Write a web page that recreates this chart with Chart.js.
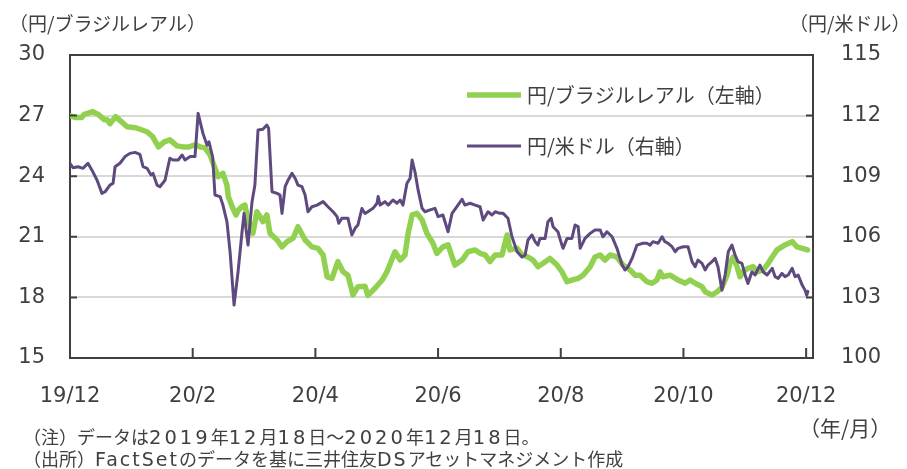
<!DOCTYPE html>
<html><head><meta charset="utf-8">
<script src="https://cdn.jsdelivr.net/npm/chart.js@4.4.1/dist/chart.umd.min.js"></script>
<style>
html,body{margin:0;padding:0;background:#fff;overflow:hidden;}
#wrap{position:relative;width:907px;height:469px;}
canvas{position:absolute;left:0;top:0;}
.t{position:absolute;font-family:"Noto Sans CJK JP","Noto Sans",sans-serif;color:#404040;white-space:nowrap;line-height:1;}
.n{font-size:18px;}
.l{font-family:"DejaVu Sans",sans-serif;font-size:19px;letter-spacing:2px;}
.d{font-family:"DejaVu Sans",sans-serif;font-size:19.5px;letter-spacing:3px;}
</style></head><body>
<div id="wrap">
<canvas id="c" width="907" height="469"></canvas>
<div class="t" style="left:9px;top:13px;font-size:19px;">（円/ブラジルレアル）</div>
<div class="t" style="left:789px;top:13px;font-size:19px;">（円/米ドル）</div>
<div class="t" style="left:799px;top:417px;font-size:21px;">（年/月）</div>
<div class="t n" style="left:23px;top:427px;">（注）データは<span class="d">2019</span>年<span class="d">12</span>月<span class="d">18</span>日～<span class="d">2020</span>年<span class="d">12</span>月<span class="d">18</span>日。</div>
<div class="t n" style="left:23px;top:449px;">（出所）<span class="l">FactSet</span>のデータを基に三井住友<span class="l">DS</span>アセットマネジメント作成</div>
</div>
<script>
// ---- data (x = trading-day index from 2019-12-18) ----
const tickPositions = [0, 43, 86, 129, 172, 215, 258];
const tickLabels = ['19/12', '20/2', '20/4', '20/6', '20/8', '20/10', '20/12'];

const brlDay = [0,2,4,5,8,10,12,13,14,16,18,20,23,25,27,29,31,33,35,37.5,39.6,41.7,43.8,45.6,47.3,49.1,50.8,51.9,53.6,55,55.5,57.1,58.2,58.9,60.3,61.3,62.4,64.1,65.5,66.6,67.6,69,70.1,72.6,74.3,76.1,78.2,79.9,82.4,84.8,86.9,88.7,90.1,91.8,93.9,95.7,97.4,99.2,100.9,103.4,104.4,106.9,109.4,111.1,113.9,115.7,117.4,118.5,119.9,121.6,123.4,125.1,127.2,128.6,130.7,132.5,134.9,137.4,139.5,142,143.7,145.5,147.2,149,151.4,153.2,154.2,156.7,158.4,160.5,162.3,164,165.8,168.2,170.7,172.4,174.2,175.9,178.1,179.8,182.3,184,185.8,187.5,189.3,191.7,193.8,196.3,198,199.8,202.2,204,205.7,206.8,207.8,210.3,213.1,215.6,217.3,219.1,221.5,222.6,225,226.8,228.5,230.3,231.3,232.4,233.8,234.8,235.9,237.6,239.4,241.1,242.9,244.3,246.1,247.8,250.6,253.1,254.8,256.6,258.5];
const brlValue = [27.0,26.9,26.9,27.06,27.2,27.05,26.8,26.8,26.6,26.95,26.7,26.45,26.4,26.3,26.2,25.95,25.45,25.7,25.8,25.5,25.45,25.45,25.55,25.45,25.4,25.05,24.4,23.98,24.14,23.56,22.98,22.4,22.08,22.3,22.5,22.57,21.83,21.17,22.24,22.0,21.75,22.08,21.17,20.84,20.5,20.76,20.93,21.5,20.84,20.5,20.43,20.1,19.02,18.94,19.77,19.27,19.1,18.12,18.53,18.55,18.1,18.45,18.86,19.27,20.26,19.85,20.1,21.17,22.08,22.16,21.83,21.17,20.68,20.18,20.5,20.6,19.6,19.85,20.26,20.35,20.18,20.1,19.77,20.1,20.1,21.09,20.35,20.43,20.1,20.0,19.85,19.52,19.69,19.93,19.6,19.27,18.78,18.86,18.94,19.1,19.52,20.0,20.1,19.85,20.1,20.0,19.6,19.36,19.1,19.1,18.78,18.7,18.86,19.27,19.02,19.1,18.86,18.7,18.86,18.7,18.53,18.28,18.12,18.28,18.5,19.1,19.7,20.0,19.52,19.02,19.27,19.44,19.52,19.27,19.36,19.6,20.0,20.35,20.6,20.76,20.5,20.43,20.35];

const usdDay = [0,1.05,2.8,4.6,6.3,7.7,9.5,11.2,12.3,14.0,15.1,15.8,17.5,19.3,21.0,22.8,24.5,25.6,27.0,28.4,29.1,30.5,31.5,33.3,35.0,36.1,37.9,39.3,40.3,42.1,43.8,44.9,46.6,48.0,48.7,50.0,50.8,52.6,53.6,55.0,56.1,57.5,58.9,60.3,61.0,62.4,63.8,64.8,65.9,67.6,69.0,69.6,70.8,72.6,73.6,74.3,75.4,76.4,77.8,78.9,79.9,81.3,82.4,83.4,84.8,86.6,88.7,90.4,92.2,93.6,94.2,95.3,97.4,98.8,99.9,100.9,102.3,103.4,104.4,106.2,107.6,108.0,108.7,110.4,111.5,113.2,114.6,115.7,116.7,118.1,119.2,119.9,120.9,122.0,123.4,124.4,126.2,127.9,129.0,130.7,132.5,133.9,135.6,137.4,138.4,140.2,142.0,143.7,144.8,146.5,147.9,149.0,150.7,151.8,153.5,154.9,156.7,158.4,159.5,160.5,161.9,163.0,164.0,164.7,166.5,167.5,168.6,169.3,171.0,172.4,172.8,174.2,175.9,177.0,178.1,178.8,180.5,182.3,184.0,185.8,186.8,188.2,190.0,191.7,193.5,194.5,195.6,197.0,198.7,200.8,202.2,203.3,204.3,206.1,207.5,208.5,209.6,211.0,212.1,213.1,214.9,216.6,218.0,219.1,220.1,221.5,222.6,223.6,225.0,226.1,227.1,228.5,229.6,230.7,232.0,233.1,234.1,235.5,236.6,237.6,239.0,240.1,241.8,242.9,244.3,246.1,247.1,248.2,249.5,250.6,251.7,253.1,254.1,255.2,256.6,257.6,258.2,258.6];
const usdValue = [109.64,109.42,109.47,109.39,109.64,109.3,108.8,108.15,108.23,108.56,108.65,109.47,109.64,109.97,110.13,110.18,110.08,109.47,109.39,109.06,109.14,108.56,108.48,108.8,109.89,109.8,109.8,110.05,109.8,109.97,109.97,112.11,111.12,110.54,110.7,109.95,108.07,107.99,107.57,106.75,105.26,102.62,104.27,106.25,107.16,105.59,107.74,108.56,111.29,111.32,111.53,111.37,108.23,108.15,108.07,107.16,108.48,108.8,109.14,108.9,108.56,108.48,108.07,107.24,107.49,107.57,107.74,107.49,107.24,107.0,106.67,106.92,106.92,106.09,106.42,106.58,107.4,107.15,107.24,107.41,107.66,107.99,107.57,107.74,107.57,107.82,107.66,107.82,107.57,108.65,108.9,109.8,109.22,108.32,107.41,107.24,107.33,107.41,107.0,107.08,106.25,107.16,107.49,107.86,107.57,107.66,107.57,107.49,106.83,107.24,107.08,107.24,107.16,107.16,106.92,106.0,105.26,105.0,105.1,105.84,106.09,105.76,105.59,105.92,105.92,106.75,106.92,106.5,106.25,105.59,105.43,105.92,105.92,106.58,106.5,105.43,105.92,106.17,106.34,106.34,106.0,106.25,106.0,105.43,104.6,104.36,104.52,104.93,105.59,105.68,105.68,105.59,105.76,105.68,106.0,105.76,105.68,105.51,105.26,105.43,105.51,105.51,104.77,104.52,104.85,104.68,104.36,104.6,104.77,104.93,104.52,103.36,104.11,105.26,105.59,105.1,104.77,104.68,104.11,103.69,104.27,104.11,104.6,104.27,104.11,104.44,104.03,103.94,104.19,104.03,104.11,104.44,104.03,104.11,103.61,103.36,103.1,103.3];

const seriesNames = ['円/ブラジルレアル（左軸）', '円/米ドル（右軸）'];
const leftTicks = [15, 18, 21, 24, 27, 30];
const rightTicks = [100, 103, 106, 109, 112, 115];

// ---- chart ----
const GREEN = '#92D050', PURPLE = '#5E4A7E', AXIS = '#404040', TEXT = '#404040';
const tickFont = {family: 'DejaVu Sans, Verdana, sans-serif', size: 21};

const framePlugin = {
  id: 'frame',
  afterDraw(chart) {
    const {ctx, chartArea: a, scales} = chart;
    ctx.save();
    ctx.strokeStyle = AXIS;
    ctx.lineWidth = 2;
    ctx.beginPath(); ctx.moveTo(a.left - 1, a.top); ctx.lineTo(a.right + 1, a.top); ctx.stroke();
    ctx.beginPath();
    tickPositions.forEach((v, i) => {
      if (i === 0) return;
      const x = scales.x.getPixelForValue(v);
      ctx.moveTo(x, a.bottom); ctx.lineTo(x, a.bottom - 10);
    });
    leftTicks.forEach(v => {
      const y = scales.yL.getPixelForValue(v);
      ctx.moveTo(a.left, y); ctx.lineTo(a.left + 7, y);
    });
    rightTicks.forEach(v => {
      const y = scales.yR.getPixelForValue(v);
      ctx.moveTo(a.right, y); ctx.lineTo(a.right - 7, y);
    });
    ctx.stroke();
    ctx.font = '20px "Noto Sans CJK JP", sans-serif';
    ctx.textBaseline = 'middle';
    ctx.fillStyle = TEXT;
    const entries = [{ds: chart.data.datasets[1], y: 95}, {ds: chart.data.datasets[0], y: 146}];
    entries.forEach(e => {
      ctx.strokeStyle = e.ds.borderColor;
      ctx.lineWidth = e.ds.borderWidth;
      ctx.beginPath(); ctx.moveTo(467, e.y); ctx.lineTo(521, e.y); ctx.stroke();
      ctx.fillText(e.ds.label, 527, e.y);
    });
    ctx.restore();
  }
};

new Chart(document.getElementById('c'), {
  type: 'line',
  data: {
    datasets: [
      {label: seriesNames[1], data: usdDay.map((d, i) => ({x: d, y: usdValue[i]})), yAxisID: 'yR',
       borderColor: PURPLE, borderWidth: 3, pointRadius: 0, tension: 0, order: 0,
       borderJoinStyle: 'round', borderCapStyle: 'round'},
      {label: seriesNames[0], data: brlDay.map((d, i) => ({x: d, y: brlValue[i]})), yAxisID: 'yL',
       borderColor: GREEN, borderWidth: 5.5, pointRadius: 0, tension: 0, order: 1,
       borderJoinStyle: 'round', borderCapStyle: 'round'}
    ]
  },
  options: {
    responsive: false, animation: false, devicePixelRatio: 1,
    layout: {padding: {top: 55, left: 0, right: 0, bottom: 0}},
    plugins: {legend: {display: false}, tooltip: {enabled: false}},
    scales: {
      x: {
        type: 'linear', min: 0, max: 260.4,
        afterBuildTicks: s => { s.ticks = tickPositions.map(v => ({value: v})); },
        afterFit: s => { s.height = 111; },
        grid: {drawOnChartArea: false, drawTicks: false},
        border: {color: AXIS, width: 2},
        ticks: {autoSkip: false, maxRotation: 0, padding: 26, color: TEXT, font: tickFont,
                callback: (v, i) => tickLabels[i]}
      },
      yL: {
        position: 'left', min: 15, max: 30,
        afterBuildTicks: s => { s.ticks = leftTicks.map(v => ({value: v})); },
        afterFit: s => { s.width = 70; },
        grid: {color: '#D9D9D9', lineWidth: 2, drawTicks: false},
        border: {color: AXIS, width: 2},
        ticks: {padding: 25, color: TEXT, font: tickFont}
      },
      yR: {
        position: 'right', min: 100, max: 115,
        afterBuildTicks: s => { s.ticks = rightTicks.map(v => ({value: v})); },
        afterFit: s => { s.width = 94; },
        grid: {drawOnChartArea: false, drawTicks: false},
        border: {color: AXIS, width: 2},
        ticks: {padding: 28, color: TEXT, font: tickFont}
      }
    }
  },
  plugins: [framePlugin]
});
</script>
</body></html>
